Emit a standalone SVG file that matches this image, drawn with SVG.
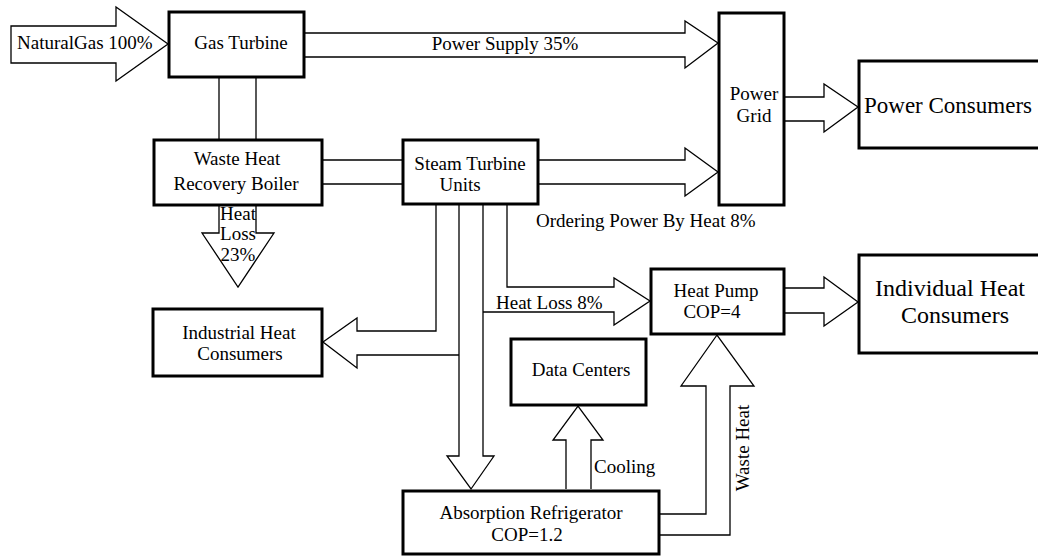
<svg xmlns="http://www.w3.org/2000/svg" width="1038" height="559" viewBox="0 0 1038 559">
<style>
.box{fill:#fff;stroke:#000;stroke-width:3}
.c{fill:none;stroke:#000;stroke-width:1.3;stroke-linejoin:miter}
text{font-family:"Liberation Serif","Times New Roman",serif;font-size:19px;fill:#000}
.m{text-anchor:middle}
.big{font-size:24px}
</style>
<rect width="1038" height="559" fill="#fff"/>
<g id="connectors">
<path class="c" d="M11,26 H116 V7 L168,44 L116,81 V63 H11 Z" fill="#fff"/>
<path class="c" d="M219,77 V140 M256,77 V140"/>
<path class="c" d="M304,33 H685 V21 L718,43 L685,68 V57 H304"/>
<path class="c" d="M322,160 H403 M322,184 H403"/>
<path class="c" d="M538,160 H685 V148 L718,172 L685,196 V184 H538"/>
<path class="c" d="M785,97 H824 V84 L858,107 L824,132 V121 H785"/>
<path class="c" d="M219,205 V233 H202 L238,287 L274,233 H256 V205"/>
<path class="c" d="M436,205 V331 H357 V318 L323,342 L357,368 V355 H459"/>
<path class="c" d="M459,205 V456 H447 L471,489 L494,456 H483 V205"/>
<path class="c" d="M507,205 V287 H614 V278 L650,301 L614,325 V312 H483"/>
<path class="c" d="M566,489 V440 H553 L578,406 L603,440 H591 V489"/>
<path class="c" d="M659,514 H706 V386 H681 L717,335 L754,386 H730 V535 H659"/>
<path class="c" d="M785,288 H824 V277 L858,302 L824,326 V313 H785"/>
</g>
<g id="labels">
<text x="17" y="49">NaturalGas 100%</text>
<text x="505" y="50" class="m">Power Supply 35%</text>
<text x="536" y="227">Ordering Power By Heat 8%</text>
<text x="238" y="220" class="m">Heat</text>
<text x="238" y="240" class="m">Loss</text>
<text x="238" y="261" class="m">23%</text>
<text x="496" y="309">Heat Loss 8%</text>
<text x="594" y="473">Cooling</text>
<text x="749" y="448" class="m" transform="rotate(-90 749 448)">Waste Heat</text>
</g>
<g id="gas-turbine"><rect class="box" x="169" y="12" width="135" height="65"/><text x="241" y="49" class="m">Gas Turbine</text></g>
<g id="whrb"><rect class="box" x="154" y="140" width="168" height="65"/><text x="237" y="165" class="m">Waste Heat</text><text x="236" y="190" class="m">Recovery Boiler</text></g>
<g id="steam-turbine"><rect class="box" x="403" y="140" width="135" height="64"/><text x="470" y="170" class="m">Steam Turbine</text><text x="460" y="191" class="m">Units</text></g>
<g id="power-grid"><rect class="box" x="719" y="13" width="65" height="192"/><text x="754" y="100" class="m">Power</text><text x="754" y="122" class="m">Grid</text></g>
<g id="power-consumers"><rect class="box" x="859" y="61" width="190" height="87"/><text x="864" y="113" style="font-size:23px">Power Consumers</text></g>
<g id="heat-pump"><rect class="box" x="651" y="269" width="133" height="65"/><text x="716" y="297" class="m">Heat Pump</text><text x="712" y="318" class="m">COP=4</text></g>
<g id="individual-heat"><rect class="box" x="859" y="255" width="190" height="98"/><text x="950" y="296" class="m big">Individual Heat</text><text x="955" y="323" class="m big">Consumers</text></g>
<g id="industrial-heat"><rect class="box" x="153" y="309" width="169" height="67"/><text x="239" y="339" class="m">Industrial Heat</text><text x="240" y="360" class="m">Consumers</text></g>
<g id="data-centers"><rect class="box" x="511" y="339" width="135" height="66"/><text x="581" y="376" class="m">Data Centers</text></g>
<g id="absorption"><rect class="box" x="403" y="491" width="256" height="63"/><text x="531" y="519" class="m">Absorption Refrigerator</text><text x="527" y="541" class="m">COP=1.2</text></g>
</svg>
